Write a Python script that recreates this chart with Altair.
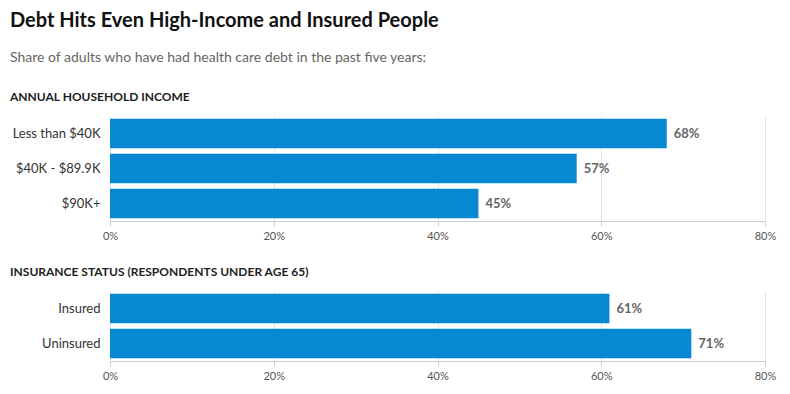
import altair as alt
import pandas as pd

income_cats = ["Less than $40K", "$40K - $89.9K", "$90K+"]
income_vals = [68, 57, 45]
ins_cats = ["Insured", "Uninsured"]
ins_vals = [61, 71]

FONT = "Lato"
BAR = "#0788d2"

df1 = pd.DataFrame({"cat": income_cats, "val": income_vals,
                    "lab": [f"{v}%" for v in income_vals]})
df2 = pd.DataFrame({"cat": ins_cats, "val": ins_vals,
                    "lab": [f"{v}%" for v in ins_vals]})

def panel(df, cats, title, step):
    x = alt.X("val:Q", scale=alt.Scale(domain=[0, 80]),
              axis=alt.Axis(values=[0, 20, 40, 60, 80], labelExpr="datum.value + '%'",
                            title=None, grid=True, gridColor="#e6e6e6",
                            domainColor="#cccccc", tickColor="#cccccc", tickSize=5,
                            labelFont=FONT, labelFontSize=11, labelColor="#555555",
                            labelPadding=4, labelFlush=False))
    y = alt.Y("cat:N", sort=cats, title=None,
              scale=alt.Scale(paddingInner=0.16, paddingOuter=0.08),
              axis=alt.Axis(ticks=False, domain=False, labelFont=FONT, labelFontSize=13,
                            labelColor="#333333", labelPadding=10,
                            minExtent=102, maxExtent=102))
    base = alt.Chart(df)
    bars = base.mark_bar(color=BAR).encode(x=x, y=y)
    text = base.mark_text(align="left", dx=7, font=FONT, fontSize=13,
                          fontWeight="bold", color="#666666").encode(
        x="val:Q", y=alt.Y("cat:N", sort=cats), text="lab:N")
    return (bars + text).properties(
        width=655, height=step * len(cats),
        title=alt.TitleParams(title, anchor="start", frame="group", dx=-100,
                              font=FONT, fontSize=12, fontWeight="bold",
                              color="#222222", offset=12))

p1 = panel(df1, income_cats, "ANNUAL HOUSEHOLD INCOME", 35)
p2 = panel(df2, ins_cats, "INSURANCE STATUS (RESPONDENTS UNDER AGE 65)", 35)

chart = alt.vconcat(p1, p2, spacing=25).properties(
    padding={"left": 0, "top": 3, "right": 5, "bottom": 0},
    title=alt.TitleParams(
        "Debt Hits Even High-Income and Insured People",
        subtitle="Share of adults who have had health care debt in the past five years:",
        anchor="start", dx=2, font=FONT, fontSize=20, fontWeight="bold", color="#111111",
        subtitleFont=FONT, subtitleFontSize=14, subtitleColor="#666666",
        subtitlePadding=20, offset=26),
).configure_view(stroke=None)

chart.save("out.html", embed_options={"renderer": "svg", "actions": False})
